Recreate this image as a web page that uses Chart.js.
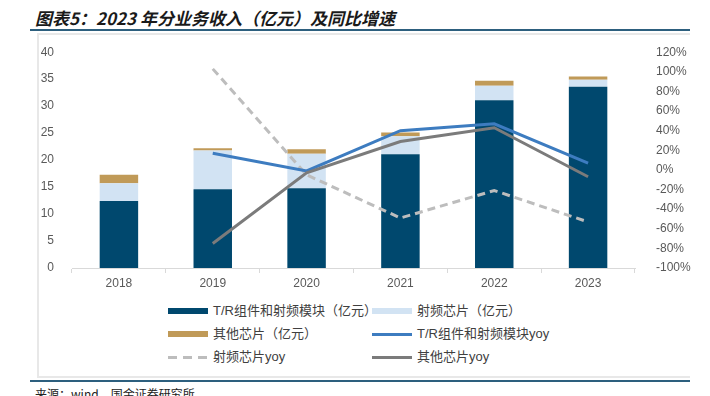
<!DOCTYPE html>
<html>
<head>
<meta charset="utf-8">
<script src="https://cdn.jsdelivr.net/npm/chart.js@4.4.1/dist/chart.umd.min.js"></script>
<style>
  body { margin: 0; width: 710px; height: 396px; background: #fff; overflow: hidden; position: relative;
         font-family: "Liberation Sans", "Noto Sans CJK SC", sans-serif; }
  #titulo { position: absolute; left: 35px; top: 5px; font: italic bold 17px "Noto Sans CJK SC", sans-serif; color: #1a1a1a; }
  .linha { position: absolute; left: 30px; width: 660px; height: 2px; background: #2d5f7e; }
  #caixa { position: absolute; left: 37px; top: 33px; width: 651px; height: 341px; border: 2px solid #e8e8e8; border-right: none; }
  #wrap { position: absolute; left: 0; top: 32px; width: 710px; height: 268px; }
  #legenda { position: absolute; left: 0; top: 0; }
  .item { position: absolute; font-size: 13px; color: #404040; white-space: nowrap; line-height: 15px;
          font-family: "Liberation Sans", "Noto Sans CJK SC", sans-serif; }
  .sw { position: absolute; }
  #fonte { position: absolute; left: 35px; top: 385px; font-size: 12px; color: #222; font-family: "Noto Sans CJK SC", sans-serif; }
</style>
</head>
<body>
<div id="titulo">图表5：2023 年分业务收入（亿元）及同比增速</div>
<div class="linha" style="top:29px"></div>
<div id="caixa"></div>
<div id="wrap"><canvas id="grafico"></canvas></div>
<div id="legenda"></div>
<div class="linha" style="top:380px"></div>
<div id="fonte">来源：wind，国金证券研究所</div>
<script>
const anos = ['2018', '2019', '2020', '2021', '2022', '2023'];

// receita (亿元)
const trModulo = [12.4, 14.6, 14.8, 21.1, 31.1, 33.6];
const rfChip = [3.3, 7.2, 6.4, 3.3, 2.7, 1.3];
const outrosChip = [1.6, 0.4, 0.8, 0.7, 0.9, 0.6];

// crescimento anual
const trYoy = [null, 0.17, -0.01, 0.40, 0.47, 0.07];
const rfYoy = [null, 1.03, -0.05, -0.49, -0.21, -0.53];
const outrosYoy = [null, -0.75, -0.03, 0.29, 0.43, -0.07];

const cores = {
  tr: '#00486e',
  rf: '#d2e3f3',
  outros: '#c09a58',
  trYoy: '#3d7cc0',
  rfYoy: '#bdbdbd',
  outrosYoy: '#7b7b7b'
};

const tickFonte = { family: '"Liberation Sans", Arial, sans-serif', size: 12 };

const ctx = document.getElementById('grafico').getContext('2d');
const chart = new Chart(ctx, {
  data: {
    labels: anos,
    datasets: [
      { type: 'bar', label: 'T/R组件和射频模块（亿元）', data: trModulo, backgroundColor: cores.tr, yAxisID: 'y', stack: 's', order: 2, barPercentage: 0.41, categoryPercentage: 1 },
      { type: 'bar', label: '射频芯片（亿元）', data: rfChip, backgroundColor: cores.rf, yAxisID: 'y', stack: 's', order: 2, barPercentage: 0.41, categoryPercentage: 1 },
      { type: 'bar', label: '其他芯片（亿元）', data: outrosChip, backgroundColor: cores.outros, yAxisID: 'y', stack: 's', order: 2, barPercentage: 0.41, categoryPercentage: 1 },
      { type: 'line', label: '射频芯片yoy', data: rfYoy, borderColor: cores.rfYoy, borderWidth: 3, borderDash: [8, 5], pointRadius: 0, yAxisID: 'y1', order: 1 },
      { type: 'line', label: '其他芯片yoy', data: outrosYoy, borderColor: cores.outrosYoy, borderWidth: 3, pointRadius: 0, yAxisID: 'y1', order: 0 },
      { type: 'line', label: 'T/R组件和射频模块yoy', data: trYoy, borderColor: cores.trYoy, borderWidth: 3, pointRadius: 0, yAxisID: 'y1', order: 0 }
    ]
  },
  options: {
    responsive: true,
    maintainAspectRatio: false,
    animation: false,
    layout: { padding: { top: 2, bottom: 5, left: 0, right: 0 } },
    plugins: { legend: { display: false }, tooltip: { enabled: false } },
    scales: {
      x: {
        stacked: true,
        border: { color: '#d9d9d9', width: 1 },
        grid: { offset: true, drawOnChartArea: false, color: '#d9d9d9', tickLength: 5 },
        ticks: { color: '#595959', font: tickFonte, padding: 3 },
        afterFit: s => { s.height = 27; }
      },
      y: {
        stacked: true,
        position: 'left',
        min: 0, max: 40,
        border: { display: false },
        grid: { display: false },
        ticks: { stepSize: 5, color: '#595959', font: tickFonte, padding: 10 },
        afterFit: s => { s.width = 72; }
      },
      y1: {
        position: 'right',
        min: -1, max: 1.2,
        border: { display: false },
        grid: { display: false },
        ticks: { stepSize: 0.2, color: '#595959', font: tickFonte, padding: 13,
          callback: v => Math.round(v * 100) + '%' },
        afterFit: s => { s.width = 75; }
      }
    }
  }
});

// legenda em HTML
const legenda = document.getElementById('legenda');
const itens = [
  { txt: 'T/R组件和射频模块（亿元）', tipo: 'bar', cor: cores.tr, x: 168, y: 311 },
  { txt: '射频芯片（亿元）', tipo: 'bar', cor: cores.rf, x: 372, y: 311 },
  { txt: '其他芯片（亿元）', tipo: 'bar', cor: cores.outros, x: 168, y: 334 },
  { txt: 'T/R组件和射频模块yoy', tipo: 'line', cor: cores.trYoy, x: 372, y: 334 },
  { txt: '射频芯片yoy', tipo: 'dash', cor: cores.rfYoy, x: 168, y: 357 },
  { txt: '其他芯片yoy', tipo: 'line', cor: cores.outrosYoy, x: 372, y: 357 }
];
itens.forEach(it => {
  const sw = document.createElement('div');
  sw.className = 'sw';
  sw.style.left = it.x + 'px';
  sw.style.width = '40px';
  if (it.tipo === 'bar') {
    sw.style.top = (it.y - 3) + 'px';
    sw.style.height = '6px';
    sw.style.background = it.cor;
  } else if (it.tipo === 'line') {
    sw.style.top = (it.y - 1.5) + 'px';
    sw.style.height = '3px';
    sw.style.background = it.cor;
  } else {
    sw.style.top = (it.y - 1.5) + 'px';
    sw.style.height = '3px';
    sw.style.background = `repeating-linear-gradient(90deg, ${it.cor} 0 9px, transparent 9px 15px)`;
  }
  legenda.appendChild(sw);
  const t = document.createElement('div');
  t.className = 'item';
  t.textContent = it.txt;
  t.style.left = (it.x + 45) + 'px';
  t.style.top = (it.y - 8) + 'px';
  legenda.appendChild(t);
});
</script>
</body>
</html>
